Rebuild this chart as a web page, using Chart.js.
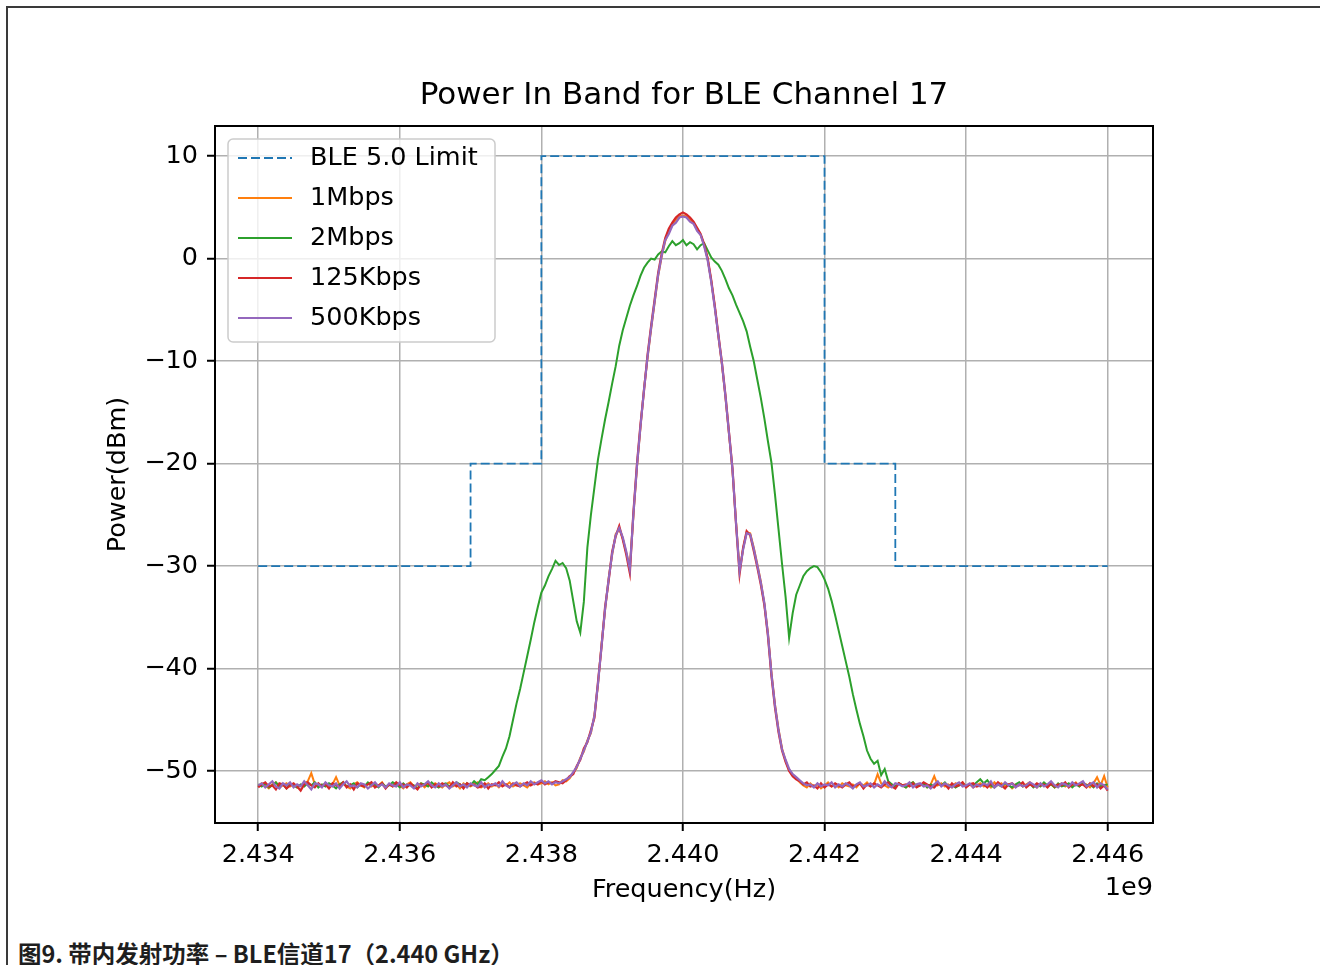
<!DOCTYPE html>
<html>
<head>
<meta charset="utf-8">
<title>Power In Band for BLE Channel 17</title>
<script src="https://cdn.jsdelivr.net/npm/chart.js@4.4.1/dist/chart.umd.min.js"></script>
<style>
  html, body { margin: 0; padding: 0; background: #fff; }
  body { width: 1320px; height: 965px; position: relative; overflow: hidden; }
  .frame { position: absolute; left: 6px; top: 6px; right: 0; bottom: 0; border-top: 2px solid #3a3a3a; border-left: 2px solid #3a3a3a; }
  #chart { position: absolute; left: 0; top: 0; }
  .caption { position: absolute; left: 18px; top: 938px; font-family: "Noto Sans CJK SC", "Noto Sans", sans-serif; font-weight: 700; font-size: 23.5px; line-height: 30px; color: #1e1e1e; white-space: nowrap; }
</style>
</head>
<body>
<div class="frame"></div>
<canvas id="chart" width="1320" height="920"></canvas>
<div class="caption">图9. 带内发射功率 – BLE信道17（2.440 GHz）</div>
<script>
const FONT = 'DejaVu Sans';
const TITLE = 'Power In Band for BLE Channel 17';

// sweep points, MHz (axis shows them in Hz with a 1e9 offset)
const freqMHz = [
  2434,2434.05,2434.1,2434.15,2434.2,2434.25,2434.3,2434.35,2434.4,2434.45,2434.5,2434.55,2434.6,2434.65,2434.7,2434.75,2434.8,2434.85,2434.9,2434.95,
  2435,2435.05,2435.1,2435.15,2435.2,2435.25,2435.3,2435.35,2435.4,2435.45,2435.5,2435.55,2435.6,2435.65,2435.7,2435.75,2435.8,2435.85,2435.9,2435.95,
  2436,2436.05,2436.1,2436.15,2436.2,2436.25,2436.3,2436.35,2436.4,2436.45,2436.5,2436.55,2436.6,2436.65,2436.7,2436.75,2436.8,2436.85,2436.9,2436.95,
  2437,2437.05,2437.1,2437.15,2437.2,2437.25,2437.3,2437.35,2437.4,2437.45,2437.5,2437.55,2437.6,2437.65,2437.7,2437.75,2437.8,2437.85,2437.9,2437.95,
  2438,2438.05,2438.1,2438.15,2438.2,2438.25,2438.3,2438.35,2438.4,2438.45,2438.5,2438.55,2438.6,2438.65,2438.7,2438.75,2438.8,2438.85,2438.9,2438.95,
  2439,2439.05,2439.1,2439.15,2439.2,2439.25,2439.3,2439.35,2439.4,2439.45,2439.5,2439.55,2439.6,2439.65,2439.7,2439.75,2439.8,2439.85,2439.9,2439.95,
  2440,2440.05,2440.1,2440.15,2440.2,2440.25,2440.3,2440.35,2440.4,2440.45,2440.5,2440.55,2440.6,2440.65,2440.7,2440.75,2440.8,2440.85,2440.9,2440.95,
  2441,2441.05,2441.1,2441.15,2441.2,2441.25,2441.3,2441.35,2441.4,2441.45,2441.5,2441.55,2441.6,2441.65,2441.7,2441.75,2441.8,2441.85,2441.9,2441.95,
  2442,2442.05,2442.1,2442.15,2442.2,2442.25,2442.3,2442.35,2442.4,2442.45,2442.5,2442.55,2442.6,2442.65,2442.7,2442.75,2442.8,2442.85,2442.9,2442.95,
  2443,2443.05,2443.1,2443.15,2443.2,2443.25,2443.3,2443.35,2443.4,2443.45,2443.5,2443.55,2443.6,2443.65,2443.7,2443.75,2443.8,2443.85,2443.9,2443.95,
  2444,2444.05,2444.1,2444.15,2444.2,2444.25,2444.3,2444.35,2444.4,2444.45,2444.5,2444.55,2444.6,2444.65,2444.7,2444.75,2444.8,2444.85,2444.9,2444.95,
  2445,2445.05,2445.1,2445.15,2445.2,2445.25,2445.3,2445.35,2445.4,2445.45,2445.5,2445.55,2445.6,2445.65,2445.7,2445.75,2445.8,2445.85,2445.9,2445.95,
  2446
];

// spectral mask (step plot)
const limitFreqMHz = [2434, 2437, 2438, 2442, 2443, 2446];
const limitDbm = [-30, -20, 10, -20, -30, -30];

const p1Mbps = [
  // floor
  -51.5,-51.2,-51.4,-51.7,-51.3,-51.1,-51.6,-51.4,-51.2,-51.5,
  -51.3,-51.6,-51.4,-51.2,-51.0,-50.2,-51.3,-51.5,-51.4,-51.2,
  -51.6,-51.3,-50.6,-51.4,-51.2,-51.5,-51.7,-51.3,-51.1,-51.4,
  -51.6,-51.2,-51.5,-51.3,-51.4,-51.1,-51.6,-51.3,-51.5,-51.2,
  -51.4,-51.7,-51.3,-51.1,-51.5,-51.4,-51.2,-51.6,-51.3,-51.5,
  -51.2,-51.4,-51.6,-51.3,-51.1,-51.5,-51.3,-51.7,-51.2,-51.4,
  -51.5,-51.3,-51.1,-51.6,-51.4,-51.2,-51.5,-51.3,-51.6,-51.2,
  -51.4,-51.1,-51.5,-51.3,-51.2,-51.4,-51.6,-51.2,-51.1,-51.3,
  -51.2,-51.0,-51.3,-51.1,-51.4,
  // main lobe
  -51.3,-50.9,-51.0,-50.7,-50.2,-49.7,-48.7,-48.1,-47.0,-46.3,
  -44.5,-41.6,-37.6,-34.3,-31.2,-28.9,-26.9,-26.4,-27.3,-28.7,
  -30.1,-25.1,-20.4,-16.5,-12.7,-9.7,-6.9,-4.3,-1.7,0.2,
  1.7,2.7,3.3,3.8,4.1,4.2,4.1,3.8,3.4,2.9,
  2.3,1.3,-0.1,-2.2,-4.7,-7.6,-10.3,-13.5,-17.1,-20.7,
  -25.7,-30.4,-28.3,-26.7,-26.8,-28.2,-29.8,-31.5,-33.7,-36.5,
  -40.4,-43.5,-45.9,-47.8,-49.0,-49.9,-50.4,-50.7,-51.1,
  // floor
  -51.4,-51.6,-51.2,-51.5,-51.3,-51.7,-51.4,-51.1,-51.5,-51.3,
  -51.6,-51.2,-51.4,-51.5,-51.3,-51.6,-51.2,-51.4,-51.1,-51.5,
  -51.3,-50.3,-51.2,-51.4,-51.6,-51.3,-51.5,-51.2,-51.4,-51.6,
  -51.3,-51.1,-51.5,-51.4,-51.2,-51.6,-51.3,-50.5,-51.4,-51.2,
  -51.5,-51.3,-51.6,-51.2,-51.4,-51.1,-51.5,-51.3,-51.6,-51.4,
  -51.2,-51.5,-51.3,-51.6,-51.1,-51.4,-51.2,-51.5,-51.3,-51.7,
  -51.4,-51.2,-51.5,-51.3,-51.1,-51.4,-51.6,-51.3,-51.2,-51.5,
  -51.3,-51.6,-51.4,-51.2,-51.5,-51.3,-51.4,-51.1,-51.5,-51.2,
  -51.3,-51.6,-51.2,-50.6,-51.4,-50.5,-51.6
];

const p2Mbps = [
  // floor
  -51.3,-51.5,-51.2,-51.6,-51.4,-51.1,-51.5,-51.3,-51.7,-51.2,
  -51.4,-51.6,-51.3,-51.5,-51.2,-51.4,-51.1,-51.6,-51.3,-51.5,
  -51.2,-51.4,-51.7,-51.3,-51.1,-51.5,-51.4,-51.2,-51.6,-51.3,
  -51.5,-51.1,-51.4,-51.3,-51.6,-51.2,-51.5,-51.4,-51.1,-51.3,
  -51.6,-51.2,-51.5,-51.3,-51.4,-51.7,-51.2,-51.3,-51.5,-51.1,
  -51.4,-51.6,-51.3,-51.2,-51.5,-51.4,-51.1,-51.3,-51.6,-51.2,
  -51.4,-51.0,-51.3,-50.8,-50.9,
  // main lobe with side lobes
  -50.6,-50.3,-49.9,-49.5,-48.6,-47.8,-46.6,-45.0,-43.4,-42.0,
  -40.4,-38.8,-37.2,-35.5,-34.0,-32.6,-31.9,-31.0,-30.3,-29.5,
  -29.9,-29.7,-30.2,-31.4,-33.4,-35.4,-36.5,-33.5,-28.2,-25.0,
  -22.3,-19.6,-17.6,-15.7,-14.0,-12.2,-10.5,-8.5,-7.0,-5.8,
  -4.6,-3.6,-2.7,-1.7,-0.9,-0.4,0.0,-0.1,0.4,0.7,
  0.6,1.2,1.7,1.3,1.5,1.8,1.3,1.6,1.4,0.9,
  1.3,1.5,0.8,0.1,-0.3,-0.6,-1.2,-2.0,-2.9,-3.6,
  -4.5,-5.3,-6.1,-7.1,-8.6,-10.0,-11.8,-13.6,-15.6,-17.8,
  -19.9,-23.0,-26.4,-29.8,-33.0,-37.0,-34.6,-32.8,-31.9,-31.0,
  -30.5,-30.2,-30.0,-30.1,-30.6,-31.3,-32.2,-33.4,-34.8,-36.3,
  -37.8,-39.3,-40.8,-42.5,-44.0,-45.4,-46.6,-48.0,-48.8,-49.3,
  -49.0,-50.4,-49.8,-51.0,
  // floor
  -51.3,-51.5,-51.2,-51.4,-51.6,-51.3,-51.1,-51.5,-51.4,-51.2,
  -51.6,-51.3,-51.5,-51.2,-51.4,-51.1,-51.5,-51.3,-51.6,-51.4,
  -51.2,-51.5,-51.3,-51.4,-51.1,-50.8,-51.2,-50.9,-51.4,-51.6,
  -51.3,-51.5,-51.2,-51.4,-51.6,-51.3,-51.1,-51.5,-51.4,-51.2,
  -51.6,-51.3,-51.5,-51.1,-51.4,-51.3,-51.6,-51.2,-51.5,-51.4,
  -51.2,-51.6,-51.3,-51.5,-51.1,-51.4,-51.3,-51.6,-51.2,-51.5,
  -51.4,-51.3
];

const p125Kbps = [
  // floor
  -51.6,-51.3,-51.1,-51.5,-51.4,-51.8,-51.2,-51.3,-51.7,-51.4,
  -51.2,-51.5,-51.9,-51.3,-51.1,-51.4,-51.6,-51.2,-51.5,-51.3,
  -51.7,-51.2,-51.4,-51.5,-51.1,-51.6,-51.3,-51.8,-51.2,-51.4,
  -51.5,-51.3,-51.1,-51.6,-51.4,-51.2,-51.7,-51.3,-51.5,-51.1,
  -51.4,-51.3,-51.6,-51.2,-51.5,-51.8,-51.3,-51.4,-51.1,-51.6,
  -51.3,-51.5,-51.2,-51.4,-51.6,-51.1,-51.5,-51.3,-51.7,-51.2,
  -51.4,-51.3,-51.6,-51.5,-51.2,-51.7,-51.3,-51.4,-51.1,-51.5,
  -51.3,-51.6,-51.2,-51.4,-51.5,-51.3,-51.1,-51.4,-51.2,-51.3,
  -51.0,-51.3,-51.1,-51.2,-51.0,
  // main lobe
  -51.1,-51.2,-50.9,-50.5,-50.3,-49.5,-48.9,-47.8,-47.2,-46.0,
  -44.8,-41.3,-37.9,-34.0,-31.5,-28.6,-27.1,-26.1,-27.4,-28.9,
  -30.7,-24.8,-20.1,-16.2,-12.9,-9.4,-6.6,-4.0,-1.4,0.5,
  2.0,2.9,3.5,4.0,4.3,4.5,4.3,4.0,3.6,3.0,
  2.4,1.4,0.0,-2.1,-4.6,-7.4,-10.1,-13.3,-16.9,-20.5,
  -25.9,-30.8,-28.2,-26.6,-27.0,-28.5,-30.1,-31.8,-33.8,-36.8,
  -40.7,-43.8,-46.2,-48.0,-49.1,-50.0,-50.5,-50.8,-51.0,
  // floor
  -51.3,-51.1,-51.5,-51.4,-51.7,-51.2,-51.6,-51.3,-51.5,-51.2,
  -51.4,-51.6,-51.3,-51.1,-51.5,-51.4,-51.2,-51.7,-51.3,-51.5,
  -51.2,-51.4,-51.6,-51.3,-51.1,-51.5,-51.7,-51.2,-51.4,-51.3,
  -51.5,-51.2,-51.6,-51.4,-51.1,-51.3,-51.5,-51.6,-51.2,-51.4,
  -51.3,-51.7,-51.2,-51.5,-51.4,-51.1,-51.6,-51.3,-51.2,-51.5,
  -51.4,-51.3,-51.6,-51.2,-51.5,-51.1,-51.4,-51.7,-51.3,-51.2,
  -51.5,-51.4,-51.1,-51.6,-51.3,-51.5,-51.2,-51.4,-51.3,-51.6,
  -51.2,-51.5,-51.3,-51.4,-51.1,-51.6,-51.3,-51.2,-51.4,-51.3,
  -51.6,-51.2,-51.5,-51.3,-51.7,-51.4,-51.9
];

const p500Kbps = [
  // floor
  -51.4,-51.2,-51.6,-51.3,-51.0,-51.5,-51.7,-51.2,-51.4,-51.1,
  -51.6,-51.3,-51.5,-51.0,-51.4,-51.8,-51.2,-51.3,-51.6,-51.1,
  -51.4,-51.5,-51.2,-51.7,-51.3,-51.0,-51.5,-51.4,-51.6,-51.2,
  -51.3,-51.7,-51.4,-51.1,-51.5,-51.3,-51.6,-51.2,-51.4,-51.5,
  -51.1,-51.6,-51.3,-51.4,-51.7,-51.2,-51.5,-51.3,-51.0,-51.4,
  -51.6,-51.2,-51.5,-51.3,-51.7,-51.4,-51.1,-51.5,-51.3,-51.6,
  -51.2,-51.4,-51.5,-51.1,-51.6,-51.3,-51.4,-51.2,-51.5,-51.0,
  -51.4,-51.6,-51.3,-51.1,-51.5,-51.2,-51.4,-51.0,-51.3,-51.1,
  -50.9,-51.2,-51.0,-51.3,-51.1,
  // main lobe
  -51.2,-51.0,-50.8,-50.6,-50.1,-49.6,-48.8,-48.0,-47.1,-46.2,
  -44.6,-41.5,-37.8,-34.2,-31.3,-28.8,-27.0,-26.3,-27.2,-28.6,
  -30.3,-25.0,-20.3,-16.4,-12.8,-9.6,-6.8,-4.2,-1.6,0.3,
  1.8,2.4,3.2,3.5,4.0,4.1,4.0,3.6,3.4,2.7,
  2.3,1.2,-0.2,-2.3,-4.8,-7.5,-10.2,-13.4,-17.0,-20.6,
  -25.8,-30.5,-28.4,-26.8,-26.9,-28.3,-29.9,-31.6,-33.6,-36.6,
  -40.5,-43.6,-46.0,-47.9,-48.9,-49.8,-50.3,-50.6,-50.9,
  // floor
  -51.2,-51.4,-51.3,-51.6,-51.2,-51.5,-51.3,-51.4,-51.1,-51.6,
  -51.3,-51.5,-51.2,-51.4,-51.7,-51.3,-51.1,-51.5,-51.4,-51.2,
  -51.6,-51.3,-51.5,-51.0,-51.4,-51.6,-51.2,-51.3,-51.5,-51.4,
  -51.1,-51.6,-51.3,-51.2,-51.5,-51.4,-51.7,-51.3,-51.0,-51.5,
  -51.2,-51.4,-51.6,-51.3,-51.1,-51.5,-51.4,-51.2,-51.6,-51.3,
  -51.5,-51.2,-51.4,-51.0,-51.6,-51.3,-51.5,-51.1,-51.4,-51.2,
  -51.6,-51.3,-51.5,-51.4,-51.1,-51.3,-51.6,-51.2,-51.5,-51.3,
  -51.0,-51.4,-51.6,-51.2,-51.3,-51.5,-51.1,-51.4,-51.2,-51.0,
  -51.5,-51.3,-51.1,-51.6,-51.2,-51.4,-51.8
];

const xTicksMHz = [2434, 2436, 2438, 2440, 2442, 2444, 2446];
const yTicks = [-50, -40, -30, -20, -10, 0, 10];

const toXY = (xs, ys) => xs.map((x, i) => ({ x, y: ys[i] }));

// frame, title over the axes, legend in the upper left corner and the 1e9 offset label
const axesDecor = {
  id: 'axesDecor',
  afterDatasetsDraw(chart) {
    const { ctx, chartArea: a } = chart;
    ctx.save();
    ctx.strokeStyle = '#000';
    ctx.lineWidth = 2;
    ctx.strokeRect(a.left, a.top, a.right - a.left, a.bottom - a.top);

    ctx.fillStyle = '#000';
    ctx.textAlign = 'center';
    ctx.textBaseline = 'middle';
    ctx.font = `31px "${FONT}"`;
    ctx.fillText(TITLE, (a.left + a.right) / 2, a.top - 30);

    const lx = a.left + 13, ly = a.top + 13, lw = 267, lh = 203;
    ctx.beginPath();
    if (ctx.roundRect) ctx.roundRect(lx, ly, lw, lh, 5); else ctx.rect(lx, ly, lw, lh);
    ctx.fillStyle = 'rgba(255,255,255,0.8)';
    ctx.fill();
    ctx.strokeStyle = '#cccccc';
    ctx.lineWidth = 1.5;
    ctx.stroke();

    ctx.font = `25.5px "${FONT}"`;
    ctx.textAlign = 'left';
    chart.data.datasets.forEach((ds, k) => {
      const y = ly + 19 + k * 40;
      ctx.beginPath();
      ctx.setLineDash(ds.borderDash || []);
      ctx.strokeStyle = ds.borderColor;
      ctx.lineWidth = ds.borderWidth;
      ctx.moveTo(lx + 10, y);
      ctx.lineTo(lx + 64, y);
      ctx.stroke();
      ctx.setLineDash([]);
      ctx.fillStyle = '#000';
      ctx.fillText(ds.label, lx + 82, y);
    });

    ctx.textAlign = 'right';
    ctx.fillText('1e9', a.right, a.bottom + 65);
    ctx.restore();
  }
};

const tickFont = { family: FONT, size: 25.5 };

new Chart(document.getElementById('chart').getContext('2d'), {
  type: 'line',
  data: {
    datasets: [
      { label: 'BLE 5.0 Limit', data: toXY(limitFreqMHz, limitDbm), borderColor: '#1f77b4', borderWidth: 1.8, borderDash: [9, 4], stepped: true, order: 5 },
      { label: '1Mbps', data: toXY(freqMHz, p1Mbps), borderColor: '#ff7f0e', borderWidth: 2, order: 4 },
      { label: '2Mbps', data: toXY(freqMHz, p2Mbps), borderColor: '#2ca02c', borderWidth: 2, order: 3 },
      { label: '125Kbps', data: toXY(freqMHz, p125Kbps), borderColor: '#d62728', borderWidth: 2.2, order: 2 },
      { label: '500Kbps', data: toXY(freqMHz, p500Kbps), borderColor: '#9467bd', borderWidth: 2.2, order: 1 }
    ]
  },
  options: {
    responsive: false,
    animation: false,
    devicePixelRatio: 1,
    layout: { padding: { left: 100, right: 167, top: 126, bottom: 0 } },
    elements: { point: { radius: 0 }, line: { tension: 0 } },
    plugins: {
      legend: { display: false },
      tooltip: { enabled: false },
      title: { display: false }
    },
    scales: {
      x: {
        type: 'linear',
        min: 2433.39,
        max: 2446.64,
        afterBuildTicks: s => { s.ticks = xTicksMHz.map(v => ({ value: v })); },
        afterFit: s => { s.height = 97; },
        ticks: { color: '#000', font: tickFont, padding: 9, maxRotation: 0, autoSkip: false, callback: v => (v / 1000).toFixed(3) },
        grid: { color: '#b0b0b0', lineWidth: 1.5, tickLength: 8, tickColor: '#000', tickWidth: 2 },
        border: { display: false },
        title: { display: true, text: 'Frequency(Hz)', color: '#000', font: tickFont, padding: { top: 0, bottom: 14 } }
      },
      y: {
        type: 'linear',
        min: -55.07,
        max: 12.93,
        afterBuildTicks: s => { s.ticks = yTicks.map(v => ({ value: v })); },
        afterFit: s => { s.width = 115; },
        ticks: { color: '#000', font: tickFont, padding: 9, callback: v => v < 0 ? '\u2212' + Math.abs(v) : String(v) },
        grid: { color: '#b0b0b0', lineWidth: 1.5, tickLength: 8, tickColor: '#000', tickWidth: 2 },
        border: { display: false },
        title: { display: true, text: 'Power(dBm)', color: '#000', font: tickFont, padding: { top: 3, bottom: 0 } }
      }
    }
  },
  plugins: [axesDecor]
});
</script>
</body>
</html>
